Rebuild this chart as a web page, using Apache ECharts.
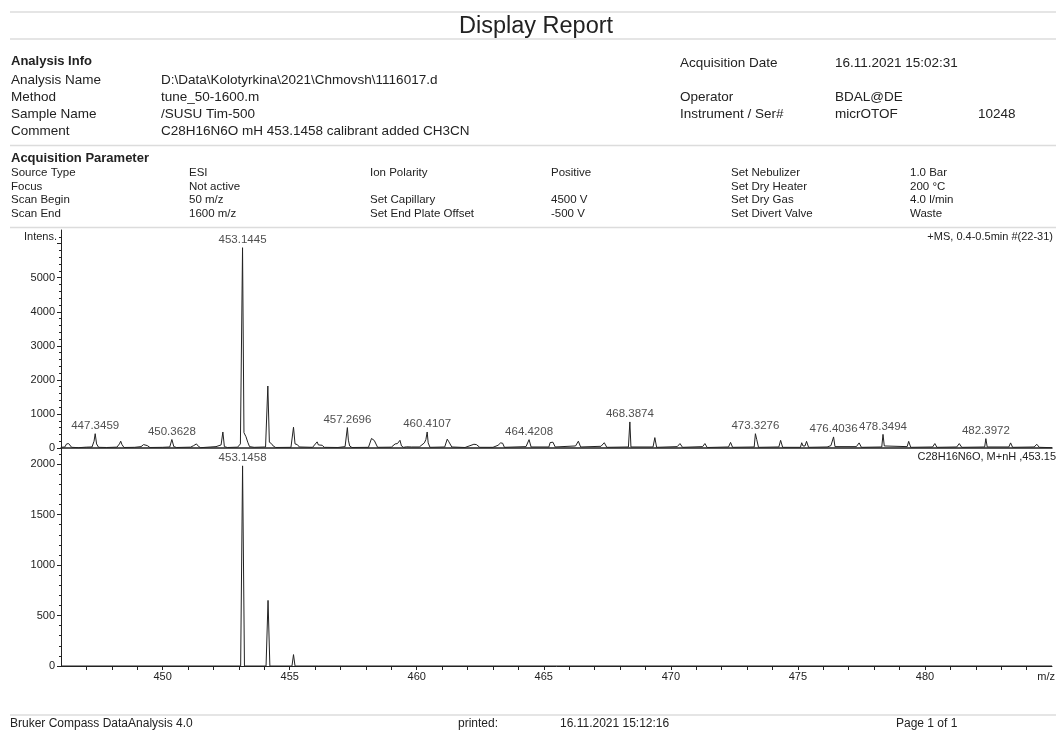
<!DOCTYPE html>
<html>
<head>
<meta charset="utf-8">
<script src="https://cdn.jsdelivr.net/npm/echarts@6/dist/echarts.min.js"></script>
<style>
html,body{margin:0;padding:0;background:#fff;}
#c{width:1056px;height:731px;}
</style>
</head>
<body>
<div id="c"></div>
<script>
// ---- data ----
// measured spectrum (+MS, 0.4-0.5min) profile vertices
var msMz = [446.0,446.15,446.22,446.3,446.36,446.42,446.7,447.0,447.22,447.3,447.3459,447.4,447.48,447.8,448.2,448.3,448.35,448.4,448.48,448.9,449.15,449.25,449.32,449.4,449.5,450.0,450.28,450.3628,450.44,450.55,451.1,451.22,451.33,451.42,451.5,451.9,452.1,452.3,452.37,452.43,452.55,452.95,453.06,453.1445,453.2,453.28,453.35,453.42,453.6,454.05,454.14,454.2,454.28,454.35,454.45,455.05,455.15,455.21,455.3,455.38,455.9,456.08,456.13,456.2,456.28,456.36,456.9,457.18,457.2696,457.31,457.36,457.45,458.1,458.22,458.29,458.33,458.38,458.46,459.0,459.15,459.24,459.3,459.34,459.4,459.48,459.6,459.8,460.1,460.3,460.36,460.4107,460.45,460.52,461.1,461.2,461.25,461.29,461.38,461.9,462.25,462.3,462.35,462.42,462.48,463.0,463.2,463.3,463.38,463.45,464.3,464.4208,464.5,465.2,465.25,465.3,465.36,465.45,466.25,466.36,466.45,467.25,467.38,467.48,468.33,468.3874,468.43,469.3,469.37,469.44,470.25,470.36,470.46,471.25,471.34,471.43,472.27,472.35,472.43,473.28,473.3276,473.38,473.45,474.25,474.32,474.4,475.1,475.15,475.2,475.28,475.34,475.42,476.15,476.2,476.3,476.4036,476.46,477.3,477.41,477.5,478.3,478.3494,478.4,478.46,479.3,479.36,479.44,480.3,480.39,480.47,481.25,481.35,481.45,482.35,482.3972,482.45,483.3,483.37,483.45,484.3,484.4,484.5,485.0];
var msInt = [20,30,120,130,120,20,10,25,30,200,420,120,20,15,25,120,200,100,15,20,40,100,110,70,15,20,30,250,40,15,25,70,120,40,10,30,40,90,470,40,15,25,120,5880,450,330,170,40,20,30,1820,170,130,60,15,20,610,120,100,30,20,180,90,130,80,20,15,40,600,230,60,15,20,280,300,220,230,20,25,120,130,180,225,60,20,35,30,30,150,250,470,150,20,30,260,200,230,30,15,110,130,100,130,20,20,80,150,140,20,40,245,30,30,160,130,170,30,60,200,30,50,155,20,30,765,30,30,305,20,40,130,20,40,130,15,30,165,20,30,420,250,20,30,225,20,20,155,60,60,195,20,30,80,70,325,40,40,150,20,30,400,60,15,40,195,20,30,130,20,30,130,20,30,275,30,30,150,20,30,110,20,10];
// labelled peaks of the measured spectrum
var msLabelMz  = [447.3459,450.3628,453.1445,457.2696,460.4107,464.4208,468.3874,473.3276,476.4036,478.3494,482.3972];
var msLabelInt = [420,250,5880,600,470,245,765,420,325,400,275];

// simulated pattern C28H16N6O, M+nH
var simMz  = [446.0,453.07,453.1458,453.22,454.07,454.148,454.22,455.09,455.15,455.21,456.12,456.15,456.18,485.0];
var simInt = [0,0,1983,0,0,650,0,0,113,0,0,12,0,0];
var simLabelMz  = [453.1458];
var simLabelInt = [1983];

// axis ticks / labels
var xTickLabels   = [450,455,460,465,470,475,480];
var topYLabels    = [0,1000,2000,3000,4000,5000];
var bottomYLabels = [0,500,1000,1500,2000];
var xMin = 446.0, xMax = 485.0;
var topYMax = 6400, bottomYMax = 2160;

// ---- helpers ----
function zip(a,b){var r=[];for(var i=0;i<a.length;i++)r.push([a[i],b[i]]);return r;}
function range(s,e,st){var r=[];for(var v=s;v<=e+1e-9;v+=st)r.push(Math.round(v*1000)/1000);return r;}
function plain(v){return String(v);}
var FONT = 'Liberation Sans, Arial, Helvetica, sans-serif';
var NARROW = 'Liberation Sans Narrow, Liberation Sans, Arial, sans-serif';
var TXT = '#222';
function T(text,x,y,size,opts){
  opts = opts||{};
  return {type:'text', x:x, y:y, silent:true, style:{text:text, font:(opts.bold?'bold ':'')+size+'px '+(opts.family||FONT), fill:opts.fill||TXT, textAlign:opts.align||'left', textVerticalAlign:'middle'}};
}
function L(y,x1,x2){return {type:'line', silent:true, shape:{x1:x1||10,y1:y,x2:x2||1056,y2:y}, style:{stroke:'#dcdcdc', lineWidth:1.5}};}

var g = [];
g.push(L(12),L(39),L(145.5),L(227.5),L(715));
g.push(T('Display Report',536,27,23.5,{align:'center'}));
g.push(T('Analysis Info',11,61,13,{bold:true}));
var infoL = ['Analysis Name','Method','Sample Name','Comment'];
var infoV = ['D:\\Data\\Kolotyrkina\\2021\\Chmovsh\\1116017.d','tune_50-1600.m','/SUSU Tim-500','C28H16N6O mH 453.1458 calibrant added CH3CN'];
var infoY = [80,97,114,131];
for (var i=0;i<4;i++){ g.push(T(infoL[i],11,infoY[i],13.5)); g.push(T(infoV[i],161,infoY[i],13.5)); }
g.push(T('Acquisition Date',680,63,13.5)); g.push(T('16.11.2021 15:02:31',835,63,13.5));
g.push(T('Operator',680,97,13.5)); g.push(T('BDAL@DE',835,97,13.5));
g.push(T('Instrument / Ser#',680,114,13.5)); g.push(T('micrOTOF',835,114,13.5)); g.push(T('10248',978,114,13.5));

g.push(T('Acquisition Parameter',11,158,13,{bold:true}));
var apY = [173,186.5,200,213.5];
var apCols = [
  [11, ['Source Type','Focus','Scan Begin','Scan End']],
  [189,['ESI','Not active','50 m/z','1600 m/z']],
  [370,['Ion Polarity','','Set Capillary','Set End Plate Offset']],
  [551,['Positive','','4500 V','-500 V']],
  [731,['Set Nebulizer','Set Dry Heater','Set Dry Gas','Set Divert Valve']],
  [910,['1.0 Bar','200 \u00B0C','4.0 l/min','Waste']]
];
apCols.forEach(function(c){ c[1].forEach(function(t,k){ if(t) g.push(T(t,c[0],apY[k],11.5)); }); });

g.push(T('Intens.',57,237,11,{align:'right'}));
g.push(T('+MS, 0.4-0.5min #(22-31)',1053,237,11,{align:'right'}));
g.push(T('C28H16N6O, M+nH ,453.15',1056,457,11,{align:'right'}));
g.push(T('m/z',1055,677,11,{align:'right'}));

g.push(T('Bruker Compass DataAnalysis 4.0',10,724,12,{family:NARROW}));
g.push(T('printed:',458,724,12,{family:NARROW}));
g.push(T('16.11.2021 15:12:16',560,724,12,{family:NARROW}));
g.push(T('Page 1 of 1',896,724,12,{family:NARROW}));

var axisColor = '#222';
var chart = echarts.init(document.getElementById('c'), null, {renderer:'canvas'});
chart.setOption({
  animation:false,
  backgroundColor:'#fff',
  textStyle:{fontFamily:FONT},
  graphic:g,
  grid:[
    {left:61, top:230, width:991, height:218, containLabel:false},
    {left:61, top:448, width:991, height:218, containLabel:false}
  ],
  xAxis:[
    {type:'value', gridIndex:0, min:xMin, max:xMax, axisLine:{show:true,onZero:false,lineStyle:{color:axisColor,width:1.5}}, axisTick:{show:false}, axisLabel:{show:false}, splitLine:{show:false}},
    {type:'value', gridIndex:1, min:xMin, max:xMax, axisLine:{show:true,onZero:false,lineStyle:{color:axisColor,width:1}},
      axisTick:{show:true, length:4, customValues:range(447,484,1), lineStyle:{color:axisColor}},
      axisLabel:{show:true, customValues:xTickLabels, formatter:plain, fontSize:11, color:TXT, margin:5, fontFamily:FONT}, splitLine:{show:false}}
  ],
  yAxis:[
    {type:'value', gridIndex:0, min:0, max:topYMax, position:'left', axisLine:{show:true,onZero:false,lineStyle:{color:axisColor}},
      axisTick:{show:true,length:2,customValues:range(0,6200,200),lineStyle:{color:axisColor}},
      axisLabel:{show:true,customValues:topYLabels,formatter:plain,fontSize:11,color:TXT,margin:6,fontFamily:FONT}, splitLine:{show:false}},
    {type:'value', gridIndex:1, min:0, max:bottomYMax, position:'left', axisLine:{show:true,onZero:false,lineStyle:{color:axisColor}},
      axisTick:{show:true,length:2,customValues:range(0,2100,100),lineStyle:{color:axisColor}},
      axisLabel:{show:true,customValues:bottomYLabels,formatter:plain,fontSize:11,color:TXT,margin:6,fontFamily:FONT}, splitLine:{show:false}},
    {type:'value', gridIndex:0, min:0, max:topYMax, position:'left', axisLine:{show:false},
      axisTick:{show:true,length:4,customValues:range(0,6000,1000),lineStyle:{color:axisColor}}, axisLabel:{show:false}, splitLine:{show:false}},
    {type:'value', gridIndex:1, min:0, max:bottomYMax, position:'left', axisLine:{show:false},
      axisTick:{show:true,length:4,customValues:range(0,2000,500),lineStyle:{color:axisColor}}, axisLabel:{show:false}, splitLine:{show:false}}
  ],
  series:[
    {type:'line', xAxisIndex:0, yAxisIndex:0, data:zip(msMz,msInt), symbol:'none', lineStyle:{color:'#222',width:1}, silent:true, z:3},
    {type:'scatter', xAxisIndex:0, yAxisIndex:0, data:zip(msLabelMz,msLabelInt), symbolSize:0, silent:true,
      label:{show:true, position:'top', distance:2, fontSize:11.5, color:TXT, fontFamily:FONT, formatter:function(p){return p.value[0].toFixed(4);}}},
    {type:'line', xAxisIndex:1, yAxisIndex:1, data:zip(simMz,simInt), symbol:'none', lineStyle:{color:'#222',width:1}, silent:true, z:3},
    {type:'scatter', xAxisIndex:1, yAxisIndex:1, data:zip(simLabelMz,simLabelInt), symbolSize:0, silent:true,
      label:{show:true, position:'top', distance:2, fontSize:11.5, color:TXT, fontFamily:FONT, formatter:function(p){return p.value[0].toFixed(4);}}}
  ]
});
</script>
</body>
</html>
